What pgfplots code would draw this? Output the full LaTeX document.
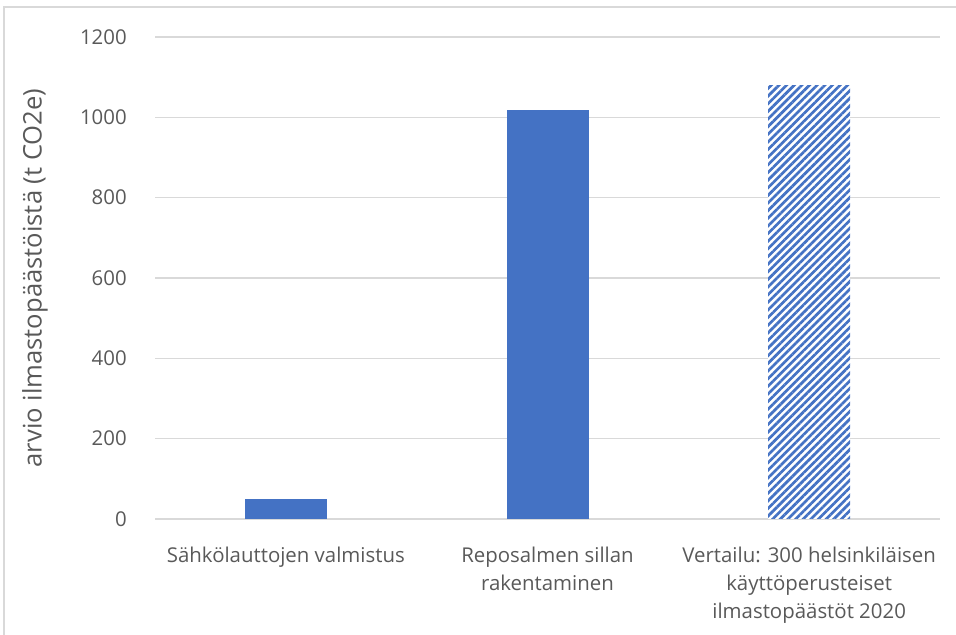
\documentclass[border=0pt]{standalone}
\usepackage{pgfplots}
\pgfplotsset{compat=1.18}
\usepackage{fontspec}
\setmainfont{Open Sans}
\usetikzlibrary{patterns.meta}
\definecolor{barblue}{HTML}{4472C4}
\definecolor{txtgray}{HTML}{595959}
\definecolor{gridgray}{HTML}{D9D9D9}
\begin{document}
\begin{tikzpicture}[x=1pt,y=1pt]
\path[use as bounding box] (0,0) rectangle (478,317.5);
\draw[gridgray, line width=0.6pt] (2,0) -- (2,314) -- (478,314);
\begin{axis}[
  at={(77.5pt,58pt)}, anchor=south west,
  scale only axis, width=392.5pt, height=241pt,
  xmin=-0.5, xmax=2.5, ymin=0, ymax=1200,
  ytick={0,200,400,600,800,1000,1200},
  xtick={0,1,2},
  xticklabels={{Sähkölauttojen valmistus},{Reposalmen sillan\\rakentaminen},{Vertailu: 300 helsinkiläisen\\käyttöperusteiset\\ilmastopäästöt 2020}},
  axis x line=bottom, axis y line=left,
  axis line style={-, gridgray, line width=0.8pt},
  y axis line style={draw=none},
  tick style={draw=none},
  ymajorgrids, grid style={gridgray, line width=0.8pt},
  font=\fontsize{10.2}{14}\selectfont,
  /pgf/number format/assume math mode=true,
  /pgf/number format/1000 sep={},
  tick label style={text=txtgray, font=\fontsize{10.2}{14}\selectfont},
  yticklabel style={anchor=east, xshift=-8.5pt},
  xticklabel style={align=center, anchor=north, yshift=-6pt},
  ylabel={arvio ilmastopäästöistä (t CO2e)},
  ylabel style={at={(axis description cs:-0.153,0.5)}, anchor=center, text=txtgray, font=\fontsize{12.8}{14}\selectfont},
  ybar, bar width=41pt, bar shift=0pt,
  clip=false,
]
\addplot[draw=none, fill=barblue] coordinates {(0,50)};
\addplot[draw=none, fill=barblue] coordinates {(1,1018)};
\addplot[draw=none, fill=white, postaction={pattern={Lines[angle=45, distance=2.7pt, line width=1.35pt]}, pattern color=barblue}] coordinates {(2,1078)};
\end{axis}
\end{tikzpicture}
\end{document}
